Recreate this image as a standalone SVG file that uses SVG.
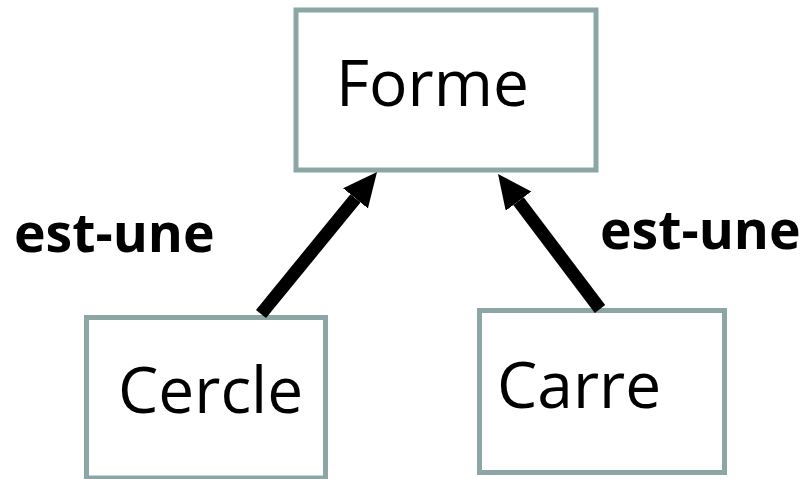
<svg xmlns="http://www.w3.org/2000/svg" width="802" height="479" viewBox="0 0 802 479">
  <style>
    .box { fill: #ffffff; stroke: #8ca6a6; stroke-width: 5; }
    .name { font-family: "Open Sans", "Noto Sans", sans-serif; font-size: 64px; fill: #000000; }
    .lbl { font-family: "Open Sans", "Noto Sans", sans-serif; font-size: 53.5px; font-weight: bold; fill: #000000; }
    .conn { stroke: #000000; stroke-width: 13; fill: none; }
  </style>
  <defs>
    <marker id="head" markerUnits="userSpaceOnUse" markerWidth="36" markerHeight="34" refX="0" refY="16" orient="auto">
      <path d="M0,0 L34,16 L0,32 z" fill="#000000"/>
    </marker>
  </defs>
  <rect width="802" height="479" fill="#ffffff"/>
  <g id="forme">
    <rect class="box" x="296" y="10" width="300" height="160"/>
    <text class="name" x="336" y="106">Forme</text>
  </g>
  <g id="cercle">
    <rect class="box" x="86.5" y="317.5" width="239" height="160.5"/>
    <text class="name" x="118" y="413">Cercle</text>
  </g>
  <g id="carre">
    <rect class="box" x="479.5" y="310.5" width="245" height="162"/>
    <text class="name" x="497" y="408">Carre</text>
  </g>
  <g id="connectors">
    <line class="conn" x1="261" y1="314" x2="355.5" y2="198.3" marker-end="url(#head)"/>
    <line class="conn" x1="600" y1="309" x2="518.5" y2="201.1" marker-end="url(#head)"/>
    <text class="lbl" x="14" y="252">est-une</text>
    <text class="lbl" x="600" y="249">est-une</text>
  </g>
</svg>
